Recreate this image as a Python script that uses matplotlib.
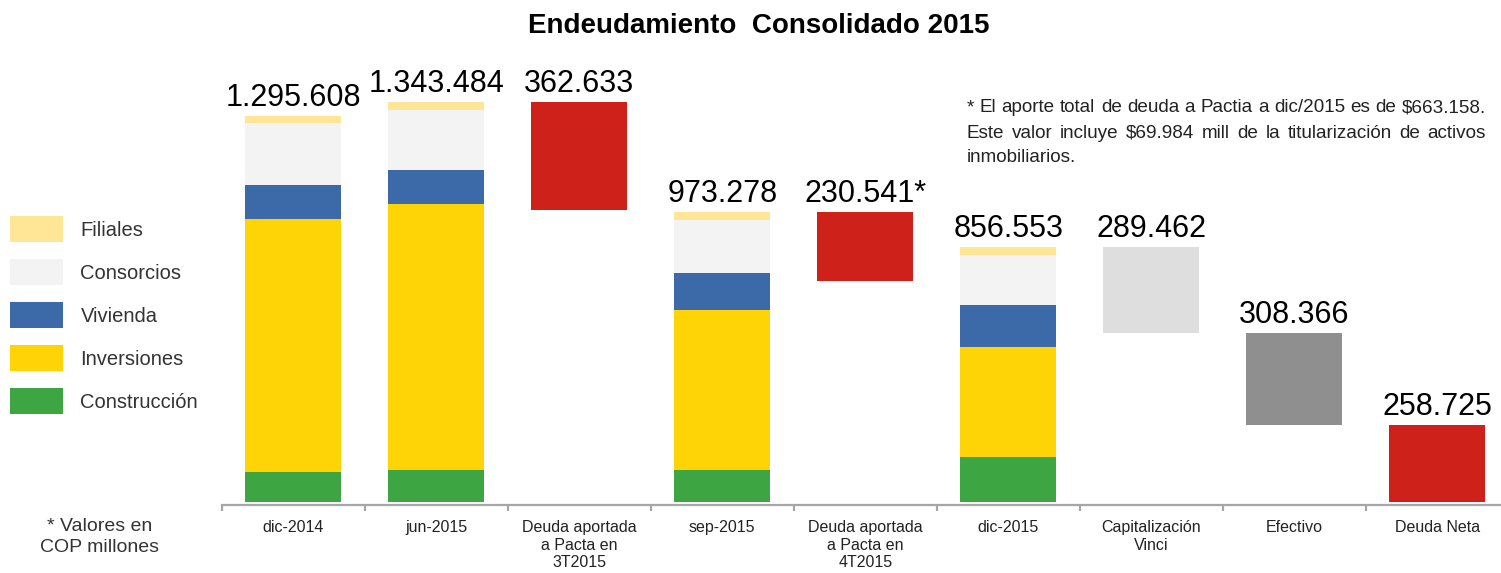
import matplotlib
matplotlib.use('Agg')
import matplotlib.pyplot as plt
import numpy as np

plt.rcParams['font.family'] = ['Liberation Sans', 'DejaVu Sans']

# categories on the x axis
categories = ['dic-2014', 'jun-2015', 'Deuda aportada\na Pacta en\n3T2015', 'sep-2015',
              'Deuda aportada\na Pacta en\n4T2015', 'dic-2015', 'Capitalización\nVinci',
              'Efectivo', 'Deuda Neta']

# stacked periods (COP millones)
periods = ['dic-2014', 'jun-2015', 'sep-2015', 'dic-2015']
totales = [1295608, 1343484, 973278, 856553]
construccion = [100000, 106000, 107000, 151000]
inversiones = [848000, 895000, 537000, 369000]
vivienda = [114000, 114000, 124000, 141000]
consorcios = [208000, 199000, 178000, 169000]
filiales = [25608, 29484, 27278, 26553]

# floating steps
aporte_3t = 362633
aporte_4t = 230541
capitalizacion = 289462
efectivo = 308366
deuda_neta = 258725

seg_names = ['Construcción', 'Inversiones', 'Vivienda', 'Consorcios', 'Filiales']
seg_colors = ['#3da643', '#fed406', '#3c6aa8', '#f3f3f3', '#ffe596']
red = '#cd2119'

fig = plt.figure(figsize=(15.01, 5.73), dpi=100)
ax = fig.add_axes([221.7/1501, 68/573, 1287/1501, 445/573])

xpos = {c: i for i, c in enumerate(categories)}
px = [xpos[p] for p in periods]
w = 0.67

bottom = np.zeros(len(periods))
handles = []
for vals, name, col in zip([construccion, inversiones, vivienda, consorcios, filiales], seg_names, seg_colors):
    b = ax.bar(px, vals, w, bottom=bottom, color=col, label=name)
    handles.append(b)
    bottom += np.array(vals)

# waterfall steps
top3 = totales[1]
ax.bar(2, aporte_3t, w, bottom=top3 - aporte_3t, color=red)
top4 = totales[2]
ax.bar(4, aporte_4t, w, bottom=top4 - aporte_4t, color=red)
topc = totales[3]
ax.bar(6, capitalizacion, w, bottom=topc - capitalizacion, color='#dedede')
tope = topc - capitalizacion
ax.bar(7, efectivo, w, bottom=tope - efectivo, color='#8f8f8f')
ax.bar(8, deuda_neta, w, color=red)

def fmt(v):
    return f'{v:,}'.replace(',', '.')

labels = [(0, totales[0], fmt(totales[0])), (1, totales[1], fmt(totales[1])),
          (2, top3, fmt(aporte_3t)), (3, totales[2], fmt(totales[2])),
          (4, top4, fmt(aporte_4t) + '*'), (5, totales[3], fmt(totales[3])),
          (6, topc, fmt(capitalizacion)), (7, tope, fmt(efectivo)),
          (8, deuda_neta, fmt(deuda_neta))]
for x, y, t in labels:
    ax.annotate(t, (x, y), xytext=(0, 7), textcoords='offset points',
                ha='center', va='baseline', fontsize=22, color='black')

ax.set_xlim(-0.5, 8.5)
ax.set_ylim(-10000, 1483000)
for s in ['top', 'right', 'left']:
    ax.spines[s].set_visible(False)
ax.spines['bottom'].set_color('#a6a6a6')
ax.spines['bottom'].set_linewidth(1.6)
ax.set_yticks([])
ax.set_xticks(range(len(categories)))
ax.set_xticklabels(categories, fontsize=11.5, color='#222222')
ax.tick_params(axis='x', which='major', length=0, pad=11)
ax.set_xticks(np.arange(-0.5, 9, 1), minor=True)
ax.tick_params(axis='x', which='minor', length=4, width=1.6, color='#a6a6a6', direction='out')

fig.text(759/1501, 1 - 33.3/573, 'Endeudamiento  Consolidado 2015', ha='center', va='baseline',
         fontsize=20, fontweight='bold')

fig.legend(handles[::-1], seg_names[::-1], loc='upper left', bbox_to_anchor=(10/1501, 1 - 216/573),
           frameon=False, borderpad=0, borderaxespad=0, fontsize=14.5, handlelength=2.65,
           handleheight=1.6, labelspacing=0.85, handletextpad=0.85, labelcolor='#333333')

fig.text(100/1501, 1 - 537/573, '* Valores en\nCOP millones', ha='center', va='center',
         fontsize=14, color='#333333', linespacing=1.25)

# justified note, top right
note = ['* El aporte total de deuda a Pactia a dic/2015 es de $663.158.',
        'Este valor incluye $69.984 mill de la titularización de activos',
        'inmobiliarios.']
r = fig.canvas.get_renderer()
x0, x1 = 967/1501, 1486/1501
for i, line in enumerate(note):
    y = 1 - (108 + 25*i)/573
    if i == len(note) - 1:
        fig.text(x0, y, line, va='center', fontsize=13.6, color='#222222')
        continue
    words = line.split()
    ts = [fig.text(0, y, wd, va='center', fontsize=13.6, color='#222222') for wd in words]
    widths = [t.get_window_extent(r).width / fig.bbox.width for t in ts]
    gap = (x1 - x0 - sum(widths)) / (len(words) - 1)
    x = x0
    for t, wd in zip(ts, widths):
        t.set_x(x)
        x += wd + gap

fig.savefig('out.png', dpi=100)
